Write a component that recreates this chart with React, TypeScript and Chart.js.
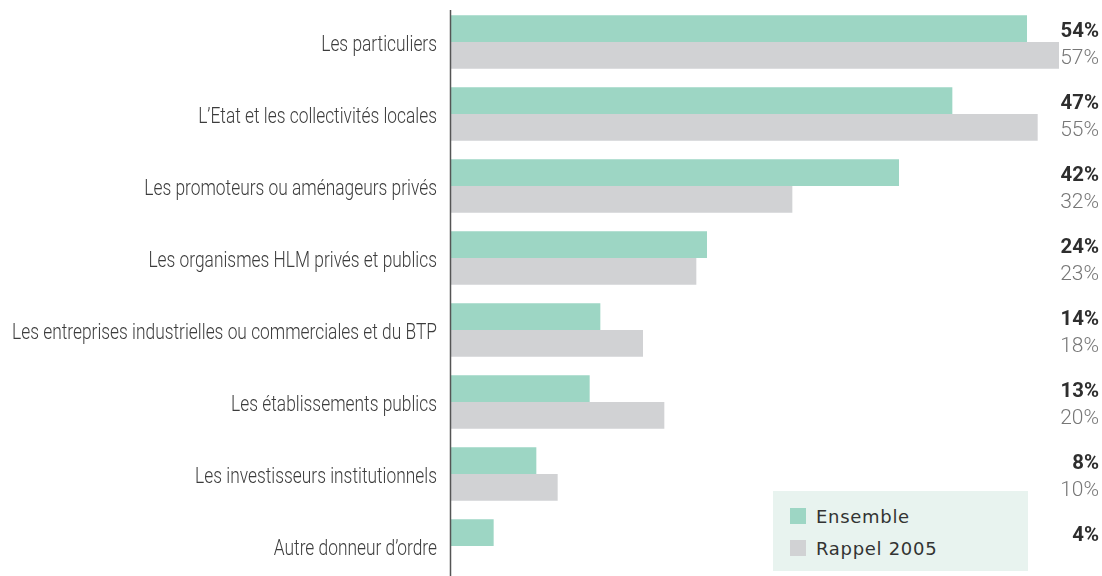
import React, { useEffect, useRef } from "react";
import { Chart, registerables } from "chart.js";

Chart.register(...registerables);

const categories = [
  "Les particuliers",
  "L’Etat et les collectivités locales",
  "Les promoteurs ou aménageurs privés",
  "Les organismes HLM privés et publics",
  "Les entreprises industrielles ou commerciales et du BTP",
  "Les établissements publics",
  "Les investisseurs institutionnels",
  "Autre donneur d’ordre",
];
const ensemble = [54, 47, 42, 24, 14, 13, 8, 4];
const rappel2005: (number | null)[] = [57, 55, 32, 23, 18, 20, 10, null];
const seriesNames = ["Ensemble", "Rappel 2005"];
const colors = ["#9dd6c4", "#d1d2d4"];

const FONT = 'Roboto, "DejaVu Sans Condensed", sans-serif';

const drawText = (ctx: any, text: string, xRight: number, y: number, font: string, color: string, sx: number) => {
  ctx.save();
  ctx.font = font;
  ctx.fillStyle = color;
  ctx.textAlign = "right";
  ctx.textBaseline = "alphabetic";
  ctx.translate(xRight, y);
  ctx.scale(sx, 1);
  ctx.fillText(text, 0, 0);
  ctx.restore();
};

const customText = {
  id: "customText",
  afterDatasetsDraw(chart: any) {
    const ctx = chart.ctx;
    const yScale = chart.scales.y;
    // category labels
    const catFont = `300 22.5px ${FONT}`;
    ctx.save();
    ctx.font = catFont;
    const longest = Math.max(...categories.map((c) => ctx.measureText(c).width));
    ctx.restore();
    const sx = 425 / longest;
    categories.forEach((c, i) => {
      const y = yScale.getPixelForTick(i);
      drawText(ctx, c, 437, y + 9, catFont, "#3c3c3c", sx);
    });
    // value labels
    chart.data.datasets.forEach((ds: any, di: number) => {
      const meta = chart.getDatasetMeta(di);
      meta.data.forEach((bar: any, i: number) => {
        const v = ds.data[i];
        if (v === null || v === undefined) return;
        if (di === 0) {
          drawText(ctx, `${v}%`, 1099, bar.y + 8.5, `bold 21px ${FONT}`, "#2e2e2e", 0.97);
        } else {
          drawText(ctx, `${v}%`, 1099, bar.y + 9, `300 21px ${FONT}`, "#777777", 1.0);
        }
      });
    });
    // axis line
    ctx.save();
    ctx.strokeStyle = "#555555";
    ctx.lineWidth = 1.5;
    ctx.beginPath();
    ctx.moveTo(450.5, 10);
    ctx.lineTo(450.5, 582);
    ctx.stroke();
    ctx.restore();
  },
};

export default function App() {
  const ref = useRef<HTMLCanvasElement | null>(null);
  useEffect(() => {
    if (!ref.current) return;
    const chart = new Chart(ref.current, {
      type: "bar",
      data: {
        labels: categories,
        datasets: [
          { label: seriesNames[0], data: ensemble, backgroundColor: colors[0] },
          { label: seriesNames[1], data: rappel2005 as any, backgroundColor: colors[1] },
        ],
      },
      options: {
        indexAxis: "y",
        responsive: false,
        animation: false,
        layout: { padding: { top: 6, bottom: 0, left: 0, right: 0 } },
        datasets: { bar: { barPercentage: 1, categoryPercentage: 0.74 } },
        plugins: { legend: { display: false }, tooltip: { enabled: false } },
        scales: {
          x: { display: false, min: 0, max: 61.03 },
          y: {
            grid: { display: false, drawTicks: false },
            border: { display: false },
            ticks: { display: false },
            afterFit(scale: any) {
              scale.width = 451;
            },
          },
        },
      },
      plugins: [customText],
    });
    return () => chart.destroy();
  }, []);

  return (
    <div style={{ position: "fixed", left: 0, top: 0, width: 1102, height: 576, overflow: "hidden", background: "#fff" }}>
      <canvas ref={ref} width={1102} height={582} style={{ display: "block" }} />
      <div
        style={{
          position: "absolute",
          left: 773,
          top: 491,
          width: 255,
          height: 80,
          background: "#e8f3ef",
          fontFamily: '"DejaVu Sans", sans-serif',
          fontSize: 18,
          color: "#333",
          letterSpacing: 0.7,
        }}
      >
        {seriesNames.map((n, i) => (
          <div key={n} style={{ position: "absolute", left: 17, top: 14 + i * 32, display: "flex", alignItems: "center", height: 22 }}>
            <span style={{ display: "inline-block", width: 16, height: 16, background: colors[i], marginRight: 10 }} />
            <span>{n}</span>
          </div>
        ))}
      </div>
    </div>
  );
}
